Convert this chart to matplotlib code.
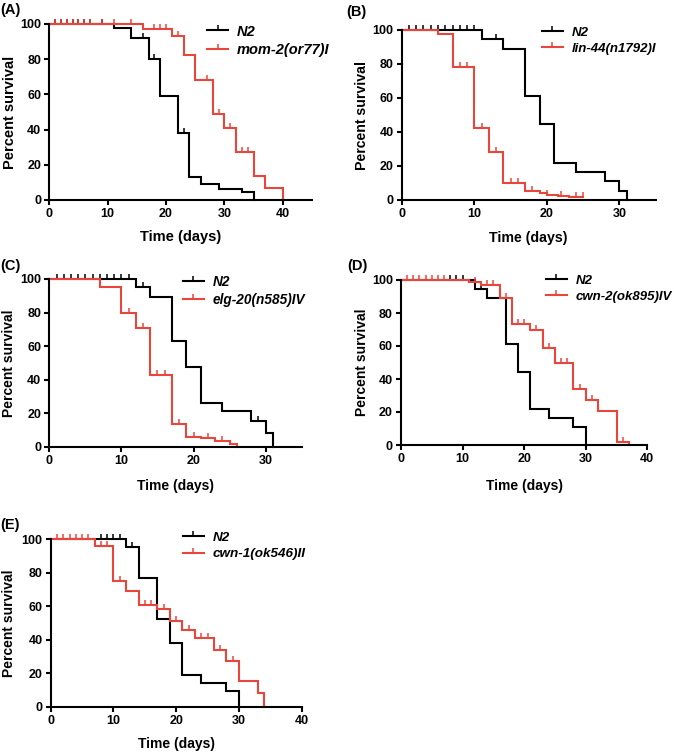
import matplotlib
matplotlib.use('Agg')
import matplotlib.pyplot as plt
import numpy as np
from matplotlib.lines import Line2D

plt.rcParams['font.family'] = ['Liberation Sans', 'DejaVu Sans']
plt.rcParams['font.weight'] = 'bold'

RED = '#E8463C'
BLACK = '#000000'

# ---------------- data ----------------
# Panel A
a_n2_t = [0, 11, 14, 17, 19, 22, 24, 26, 29, 33, 35]
a_n2_s = [100, 98, 92, 80, 59, 38, 13, 9, 6.5, 4.5, 0]
a_n2_c = [1, 2, 3, 4, 5, 6, 7, 9, 16, 18, 23]
a_mut_t = [0, 16, 21, 23, 25, 28, 30, 32, 35, 37, 40]
a_mut_s = [100, 97, 93, 82.5, 68, 49, 41, 27.5, 13.5, 7, 0]
a_mut_c = [1, 2, 3, 4, 5, 6, 7, 9, 11, 14, 18, 19, 20, 22, 27, 29, 31, 33, 34]
a_label = 'mom-2(or77)I'

# Panel B
b_n2_t = [0, 11, 14, 17, 19, 21, 24, 28, 30, 31]
b_n2_s = [100, 95, 89, 61, 44.5, 22, 16.7, 11, 5.5, 0]
b_n2_c = [1, 2, 3, 4, 5, 6, 7, 8, 9, 10, 13]
b_mut_t = [0, 5, 7, 10, 12, 14, 17, 19, 20, 21.5, 23, 25]
b_mut_s = [100, 97.5, 78.5, 42.5, 28, 10, 5.5, 4.3, 3.1, 2.3, 1.5, 1.5]
b_mut_c = [8, 9, 11, 13, 15, 16, 18, 20, 22, 24, 25]
b_label = 'lin-44(n1792)I'

# Panel C
c_n2_t = [0, 12, 14, 17, 19, 21, 24, 28, 30, 31]
c_n2_s = [100, 95, 89.5, 63, 47.5, 26, 21, 15.5, 8, 0]
c_n2_c = [1, 2, 3, 4, 5, 6, 7, 8, 9, 10, 11, 13, 29]
c_mut_t = [0, 7, 10, 12, 14, 17, 19, 21, 23, 25, 26]
c_mut_s = [100, 95, 79.5, 70.5, 42.5, 13.5, 6, 5, 3.5, 1.5, 0]
c_mut_c = [11, 13, 15, 16, 18, 20, 22, 24]
c_label = 'elg-20(n585)IV'

# Panel D
d_n2_t = [0, 12, 14, 17, 19, 21, 24, 28, 30]
d_n2_s = [100, 94.5, 89, 61, 44.5, 22, 16.5, 11, 0]
d_n2_c = [8, 9, 10, 13]
d_mut_t = [0, 11, 13, 16, 18, 21, 23, 25, 28, 30, 32, 35, 37]
d_mut_s = [100, 98.5, 97, 89, 73.5, 70, 59, 50, 34, 27.5, 20.5, 2, 0]
d_mut_c = [1, 2, 3, 4, 5, 6, 7, 12, 14, 15, 17, 19, 20, 22, 24, 26, 27, 29, 31, 36]
d_label = 'cwn-2(ok895)IV'

# Panel E
e_n2_t = [0, 12, 14, 17, 19, 21, 24, 28, 30]
e_n2_s = [100, 95, 76.5, 52.5, 38, 19, 14.3, 9.5, 0]
e_n2_c = [8, 9, 10, 11, 13]
e_mut_t = [0, 7, 10, 12, 14, 17, 19, 21, 23, 26, 28, 30, 33, 34]
e_mut_s = [100, 96, 75, 69, 60.5, 58, 51, 46, 41, 34, 27.5, 15.5, 8, 0]
e_mut_c = [1, 2, 3, 4, 5, 6, 8, 9, 11, 15, 16, 18, 20, 22, 24, 25, 27, 29]
e_label = 'cwn-1(ok546)II'

# ---------------- layout ----------------
W, H = 674, 752
fig = plt.figure(figsize=(W / 100, H / 100), dpi=100)


def surv_at(times, surv, xs):
    idx = np.searchsorted(np.asarray(times), np.asarray(xs), side='right') - 1
    return np.asarray(surv)[idx]


def panel(letter, box, xmax, n2, mut, mut_label, leg_xy, letter_xy, ylab_x,
          xlab_y, leg_fs, lab_fs):
    l, r, t, b = box
    ax = fig.add_axes([l / W, 1 - b / H, (r - l) / W, (b - t) / H])
    for (tt, ss, cc), col in ((n2, BLACK), (mut, RED)):
        ax.step(tt, ss, where='post', color=col, lw=1.5, clip_on=False,
                solid_joinstyle='miter')
        ax.plot(cc, surv_at(tt, ss, cc), ls='none', marker=2, ms=3.5,
                mew=1.1, color=col, clip_on=False)
    ax.set_xlim(0, xmax)
    ax.set_ylim(0, 100)
    ax.set_xticks(np.arange(0, xmax + 0.1, 10))
    ax.set_yticks(np.arange(0, 101, 20))
    for s in ('top', 'right'):
        ax.spines[s].set_visible(False)
    for s in ('left', 'bottom'):
        ax.spines[s].set_linewidth(1.5)
    ax.tick_params(width=1.5, length=3.8, labelsize=9, pad=2)
    for lab in ax.get_xticklabels() + ax.get_yticklabels():
        lab.set_fontweight('bold')
    ax.set_ylabel('Percent survival', fontsize=lab_fs, fontweight='bold', va='center')
    ax.yaxis.set_label_coords((ylab_x - l) / (r - l), 0.5)
    ax.set_xlabel('Time (days)', fontsize=lab_fs, fontweight='bold', va='center')
    ax.xaxis.set_label_coords(0.5, (b - xlab_y) / (b - t))
    handles = [Line2D([], [], color=BLACK, lw=1.5, marker=2, ms=3.5, mew=1.1),
               Line2D([], [], color=RED, lw=1.5, marker=2, ms=3.5, mew=1.1)]
    fx = (leg_xy[0] - l) / (r - l)
    fy = (b - leg_xy[1]) / (b - t)
    ax.legend(handles, ['N2', mut_label], loc='upper left', bbox_to_anchor=(fx, fy),
              frameon=False, borderpad=0, borderaxespad=0,
              handlelength=21 / (leg_fs * 100 / 72),
              handletextpad=9 / (leg_fs * 100 / 72),
              labelspacing=0.3, numpoints=1,
              prop=dict(weight='bold', style='italic', size=leg_fs))
    fig.text(letter_xy[0] / W, 1 - letter_xy[1] / H, letter, fontsize=10.5,
             fontweight='bold', ha='left', va='center')
    return ax


panel('(A)', (49.3, 312, 24, 200), 45, (a_n2_t, a_n2_s, a_n2_c),
      (a_mut_t, a_mut_s, a_mut_c), a_label, (207, 24.6), (0, 10), 9.5, 237,
      10.5, 10.5)
panel('(B)', (401.7, 655.7, 30, 200), 35, (b_n2_t, b_n2_s, b_n2_c),
      (b_mut_t, b_mut_s, b_mut_c), b_label, (541.7, 26.5), (346, 12), 361.5, 238,
      9.5, 10.2)
panel('(C)', (49.3, 301.7, 279, 446.7), 35, (c_n2_t, c_n2_s, c_n2_c),
      (c_mut_t, c_mut_s, c_mut_c), c_label, (182.7, 275.0), (0, 266), 9.0, 486,
      9.8, 10.0)
panel('(D)', (401, 647.3, 280, 445), 40, (d_n2_t, d_n2_s, d_n2_c),
      (d_mut_t, d_mut_s, d_mut_c), d_label, (545.7, 274.5), (347, 266), 362.5, 486,
      9.5, 10.0)
panel('(E)', (50.7, 301.7, 539, 706.7), 40, (e_n2_t, e_n2_s, e_n2_c),
      (e_mut_t, e_mut_s, e_mut_c), e_label, (182.7, 531.5), (0, 525), 9.0, 743.7,
      9.7, 10.0)

fig.savefig('out.png', dpi=100)
